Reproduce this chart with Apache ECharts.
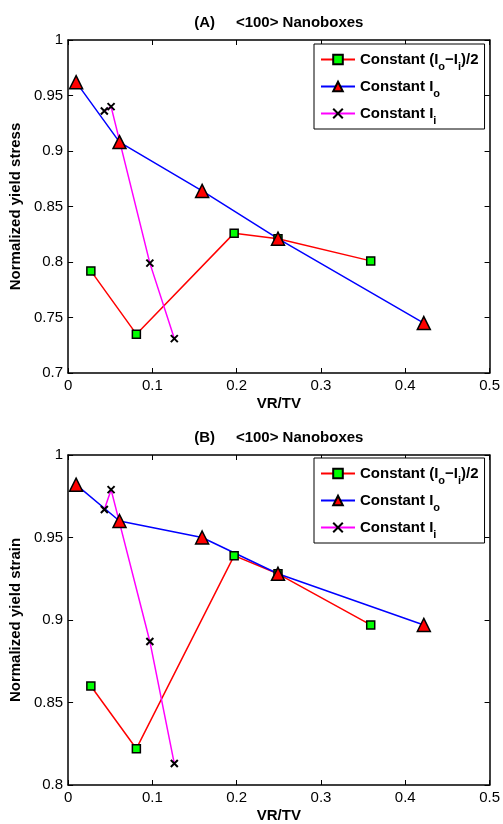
<!DOCTYPE html>
<html>
<head>
<meta charset="utf-8">
<script src="https://cdn.jsdelivr.net/npm/echarts@6/dist/echarts.min.js"></script>
<style>
  html, body { margin: 0; padding: 0; background: #fff; }
  #main { width: 503px; height: 824px; }
</style>
</head>
<body>
<div id="main"></div>
<script>
// VR/TV positions
const vrSquare = [0.027, 0.081, 0.197, 0.249, 0.359];
const vrTriangle = [0.0095, 0.061, 0.159, 0.249, 0.422];
const vrCross = [0.043, 0.051, 0.097, 0.126];

// (A) normalized yield stress
const stressSquare = [0.792, 0.735, 0.826, 0.821, 0.801];
const stressTriangle = [0.962, 0.908, 0.864, 0.821, 0.745];
const stressCross = [0.936, 0.940, 0.799, 0.731];

// (B) normalized yield strain
const strainSquare = [0.860, 0.822, 0.939, 0.928, 0.897];
const strainTriangle = [0.982, 0.960, 0.950, 0.928, 0.897];
const strainCross = [0.967, 0.979, 0.887, 0.813];

const seriesNames = ['Constant (Io-Ii)/2', 'Constant Io', 'Constant Ii'];
const legendText = {
    'Constant (Io-Ii)/2': '{t|Constant (I}{s|o}{t|\u2212I}{s|i}{t|)/2}',
    'Constant Io': '{t|Constant I}{s|o}',
    'Constant Ii': '{t|Constant I}{s|i}'
};

const FONT = '"Liberation Sans", Arial, Helvetica, sans-serif';
const crossPath = 'path://M0,0L10,10M10,0L0,10';

const pair = (xs, ys) => xs.map((x, i) => [x, ys[i]]);

let chart = echarts.init(document.getElementById('main'), null, { renderer: 'canvas' });

// 坐标轴公共样式
const lineAxis = (extra) => Object.assign({
    axisLine: { show: true, onZero: false, lineStyle: { color: '#000', width: 1.5 } },
    axisTick: { show: true, inside: true, length: 5, lineStyle: { color: '#000' } },
    splitLine: { show: false },
    axisLabel: { show: false }
}, extra);

const labelStyle = { show: true, color: '#000', fontSize: 15, fontFamily: FONT, margin: 5 };
const nameStyle = { color: '#000', fontSize: 15, fontWeight: 'bold', fontFamily: FONT };

const makeLegend = (top) => ({
    orient: 'vertical',
    left: 314,
    top: top,
    data: seriesNames,
    borderColor: '#000',
    borderWidth: 1,
    backgroundColor: '#fff',
    padding: [7, 6, 3, 6],
    itemWidth: 34,
    itemHeight: 12,
    itemGap: 6,
    selectedMode: false,
    formatter: (name) => legendText[name],
    textStyle: {
        rich: {
            t: { fontSize: 15, fontWeight: 'bold', fontFamily: FONT, color: '#000', verticalAlign: 'top', padding: [1, 0, 0, 0], lineHeight: 17 },
            s: { fontSize: 11, fontWeight: 'bold', fontFamily: FONT, color: '#000', verticalAlign: 'top', padding: [10, 0, 0, 0], lineHeight: 13 }
        }
    }
});

const makeSeries = (gi, sq, tri, cr) => [
    {
        name: seriesNames[0], type: 'line', xAxisIndex: gi * 2, yAxisIndex: gi * 2,
        data: pair(vrSquare, sq),
        symbol: 'rect', symbolSize: 8,
        lineStyle: { color: '#ff0000', width: 1.5 },
        itemStyle: { color: '#00ff00', borderColor: '#000', borderWidth: 1.5 },
        animation: false
    },
    {
        name: seriesNames[1], type: 'line', xAxisIndex: gi * 2, yAxisIndex: gi * 2,
        data: pair(vrTriangle, tri),
        symbol: 'triangle', symbolSize: 13,
        lineStyle: { color: '#0000ff', width: 1.5 },
        itemStyle: { color: '#ff0000', borderColor: '#000', borderWidth: 1.5 },
        animation: false
    },
    {
        name: seriesNames[2], type: 'line', xAxisIndex: gi * 2, yAxisIndex: gi * 2,
        data: pair(vrCross, cr),
        symbol: crossPath, symbolSize: 7,
        lineStyle: { color: '#ff00ff', width: 1.5 },
        itemStyle: { color: '#000', borderColor: '#000', borderWidth: 2 },
        animation: false
    }
];

const option = {
    backgroundColor: '#fff',
    animation: false,
    legend: [makeLegend(44), makeLegend(458)],
    grid: [
        { left: 67, top: 40, width: 423, height: 333 },
        { left: 67, top: 455, width: 423, height: 332 }
    ],
    xAxis: [
        lineAxis({ type: 'value', gridIndex: 0, position: 'bottom', min: 0, max: 0.5, interval: 0.1,
            axisLabel: labelStyle, name: 'VR/TV', nameLocation: 'middle', nameGap: 23, nameTextStyle: nameStyle }),
        lineAxis({ type: 'value', gridIndex: 0, position: 'top', min: 0, max: 0.5, interval: 0.1,
            name: '(A)     <100> Nanoboxes', nameLocation: 'middle', nameGap: 10, nameTextStyle: nameStyle }),
        lineAxis({ type: 'value', gridIndex: 1, position: 'bottom', min: 0, max: 0.5, interval: 0.1,
            axisLabel: labelStyle, name: 'VR/TV', nameLocation: 'middle', nameGap: 23, nameTextStyle: nameStyle }),
        lineAxis({ type: 'value', gridIndex: 1, position: 'top', min: 0, max: 0.5, interval: 0.1,
            name: '(B)     <100> Nanoboxes', nameLocation: 'middle', nameGap: 10, nameTextStyle: nameStyle })
    ],
    yAxis: [
        lineAxis({ type: 'value', gridIndex: 0, position: 'left', min: 0.7, max: 1, interval: 0.05,
            axisLabel: labelStyle, name: 'Normalized yield stress', nameLocation: 'middle', nameGap: 40, nameTextStyle: nameStyle }),
        lineAxis({ type: 'value', gridIndex: 0, position: 'right', min: 0.7, max: 1, interval: 0.05 }),
        lineAxis({ type: 'value', gridIndex: 1, position: 'left', min: 0.8, max: 1, interval: 0.05,
            axisLabel: labelStyle, name: 'Normalized yield strain', nameLocation: 'middle', nameGap: 40, nameTextStyle: nameStyle }),
        lineAxis({ type: 'value', gridIndex: 1, position: 'right', min: 0.8, max: 1, interval: 0.05 })
    ],
    series: [].concat(
        makeSeries(0, stressSquare, stressTriangle, stressCross),
        makeSeries(1, strainSquare, strainTriangle, strainCross)
    )
};

chart.setOption(option);
window.onresize = () => { chart.resize(); };
</script>
</body>
</html>
